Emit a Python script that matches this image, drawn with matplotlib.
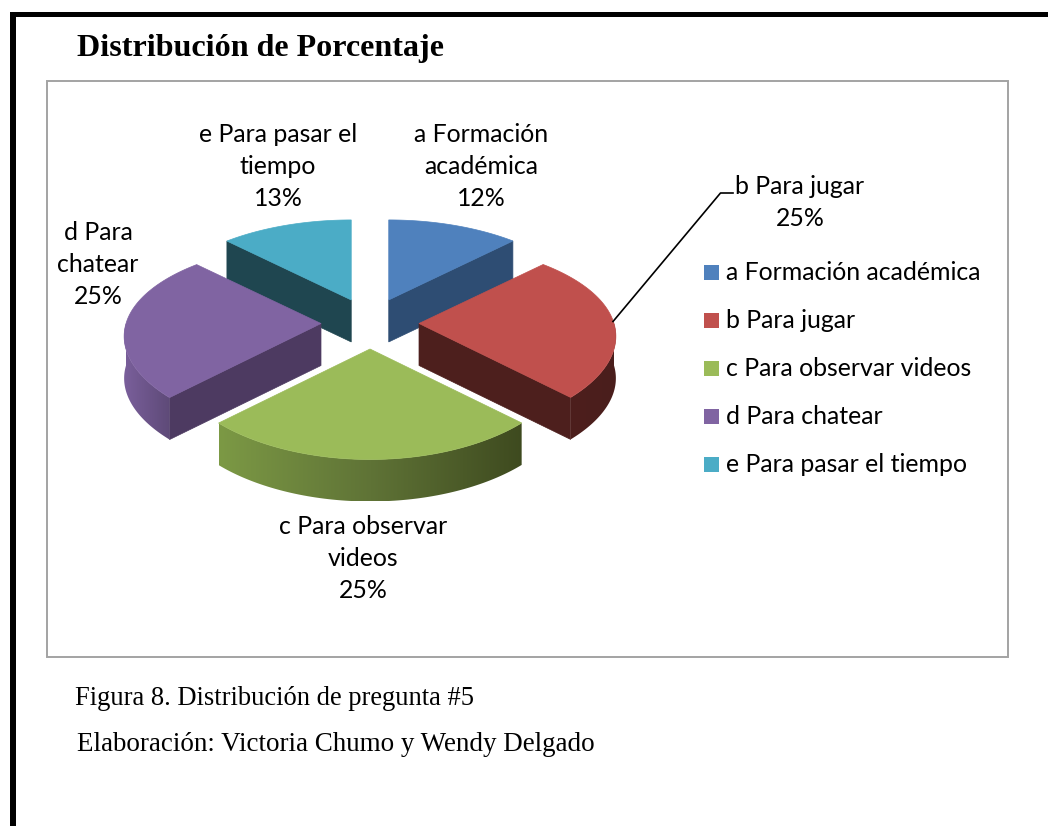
import numpy as np
import matplotlib
matplotlib.use("Agg")
import matplotlib.pyplot as plt
from matplotlib.colors import LinearSegmentedColormap
from matplotlib.patches import Polygon, Rectangle

# datos
categorias = ["a Formación académica", "b Para jugar", "c Para observar videos",
              "d Para chatear", "e Para pasar el tiempo"]
valores = [12.49, 25, 25, 25, 12.51]
etiquetas = [["a Formación", "académica"], ["b Para jugar"], ["c Para observar", "videos"],
             ["d Para", "chatear"], ["e Para pasar el", "tiempo"]]

# estilos
colores = ["#4F81BD", "#C0504D", "#9BBB59", "#8064A2", "#4BACC6"]
pared_radial = ["#2E4D73", "#4D1F1D", None, "#4D3A61", "#1F4650"]
# degradado del borde exterior, de izquierda a derecha
pared_arco = [None,
              ["#4D1F1D", "#4A1E1C"],
              ["#7C9945", "#5F7336", "#3E4A1F"],
              ["#7A5F9B", "#5E4A78"],
              None]
etiqueta_pos = [(481, 135), (800, 187), (363, 526), (98, 233), (278, 135)]

W, H = 1048, 826
CX, CY = 370, 323.5   # centro del pastel
R = 195               # radio horizontal
A = 92.8              # radio vertical
K_Y = 0.16            # perspectiva vertical
K_X = 0.14            # perspectiva horizontal
ALTO = 42             # grosor
EXPLODE_X = 49
EXPLODE_Y = 25.5


def proyectar(theta):
    # theta en grados, horario desde las 12
    t = np.radians(theta)
    x = np.sin(t)
    y = np.cos(t)
    return R * x * (1 - K_X * y), -A * y / (1 + K_Y * y)


fig = plt.figure(figsize=(W / 100, H / 100), dpi=100)
ax = fig.add_axes([0, 0, 1, 1])

# marco negro de la pagina y marco del grafico
ax.add_patch(Rectangle((9.5, 12), W, 4.8, fc="black", ec="none", zorder=0))
ax.add_patch(Rectangle((9.5, 12), 6.5, H, fc="black", ec="none", zorder=0))
ax.add_patch(Rectangle((47, 80.5), 961, 576, fc="white", ec="#A3A3A3", lw=1.4, zorder=1))

bordes = np.concatenate([[0], np.cumsum(valores)]) / sum(valores) * 360

# el orden de dibujo va de atras hacia adelante
orden = [4, 0, 3, 1, 2]
for i in orden:
    ini, fin = bordes[i], bordes[i + 1]
    medio = np.radians((ini + fin) / 2)
    cx = CX + EXPLODE_X * np.sin(medio)
    cy = CY - EXPLODE_Y * np.cos(medio)
    z = 3 + orden.index(i)

    # paredes planas
    if pared_radial[i] is not None:
        borde = fin if i in (0, 1) else ini
        px, py = proyectar(borde)
        ax.add_patch(Polygon([(cx, cy), (cx + px, cy + py), (cx + px, cy + py + ALTO), (cx, cy + ALTO)],
                             fc=pared_radial[i], ec=pared_radial[i], lw=0.5, zorder=z))

    # pared curva con degradado
    if pared_arco[i] is not None:
        ts = np.linspace(max(ini, 90), min(fin, 270), 80)
        xs, ys = proyectar(ts)
        xs, ys = cx + xs, cy + ys
        contorno = list(zip(xs, ys)) + list(zip(xs[::-1], ys[::-1] + ALTO))
        pared = Polygon(contorno, fc="none", ec="none", zorder=z)
        ax.add_patch(pared)
        cmap = LinearSegmentedColormap.from_list("pared", pared_arco[i])
        img = ax.imshow(np.linspace(0, 1, 256).reshape(1, -1), cmap=cmap, aspect="auto",
                        extent=(xs.min(), xs.max(), ys.max() + ALTO, ys.min()), zorder=z)
        img.set_clip_path(pared)

    # cara superior
    ts = np.linspace(ini, fin, 80)
    xs, ys = proyectar(ts)
    pts = [(cx, cy)] + list(zip(cx + xs, cy + ys))
    ax.add_patch(Polygon(pts, fc=colores[i], ec=colores[i], lw=0.5, zorder=z))

ax.set_xlim(0, W)
ax.set_ylim(H, 0)
ax.set_aspect("auto")
ax.axis("off")

# etiquetas de datos
for nombre, val, pos in zip(etiquetas, valores, etiqueta_pos):
    lineas = nombre + ["%d%%" % round(val)]
    for j, linea in enumerate(lineas):
        ax.text(pos[0], pos[1] + 32 * j, linea, family="Lato", fontsize=17.9, color="black",
                ha="center", va="center", zorder=10)

# linea guia de b
ax.plot([613, 720.5, 733], [321.5, 193, 193], color="black", lw=1.2, zorder=9)

# leyenda
for i, nombre in enumerate(categorias):
    y = 272 + 48 * i
    ax.add_patch(Rectangle((704, y - 7.5), 15, 15, fc=colores[i], ec="none", zorder=10))
    ax.text(726, y + 1, nombre, family="Lato", fontsize=17.9, color="black", ha="left", va="center", zorder=10)

# textos de la pagina
ax.text(77, 56, "Distribución de Porcentaje", family="Liberation Serif", fontweight="bold",
        fontsize=23.1, ha="left", va="baseline")
ax.text(75, 705, "Figura 8. Distribución de pregunta #5", family="Liberation Serif",
        fontsize=19.1, ha="left", va="baseline")
ax.text(77, 751, "Elaboración: Victoria Chumo y Wendy Delgado", family="Liberation Serif",
        fontsize=19.45, ha="left", va="baseline")

fig.savefig("out.png", dpi=100)
